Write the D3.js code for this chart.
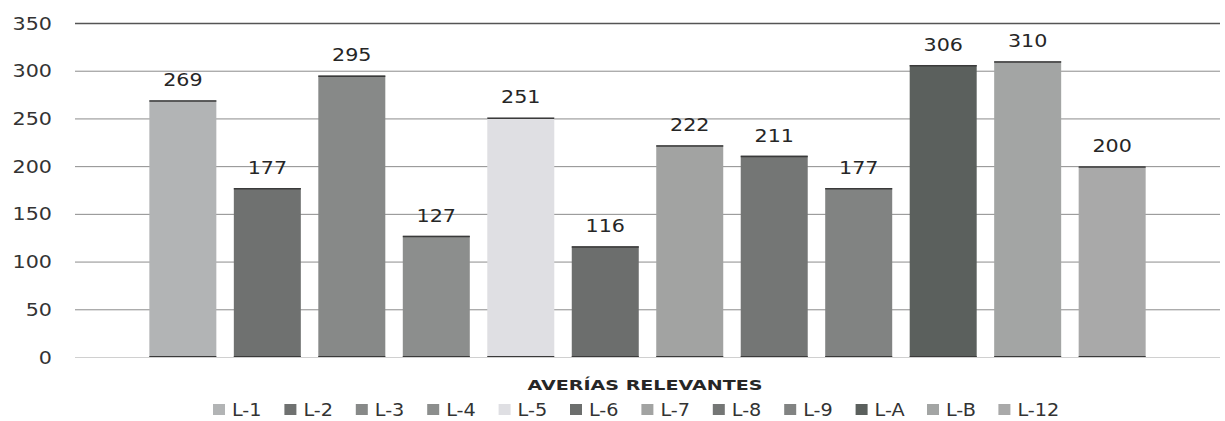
<!DOCTYPE html>
<html>
<head>
<meta charset="utf-8">
<script src="https://cdn.jsdelivr.net/npm/d3@7"></script>
<style>
  html, body { margin: 0; padding: 0; background: #ffffff; }
  svg { display: block; }
  text { font-family: "DejaVu Sans", Verdana, sans-serif; }
</style>
</head>
<body>
<svg id="chart" width="1225" height="421"></svg>
<script>
// Series (one bar each) and their values
const series = ["L-1", "L-2", "L-3", "L-4", "L-5", "L-6", "L-7", "L-8", "L-9", "L-A", "L-B", "L-12"];
const values = [269, 177, 295, 127, 251, 116, 222, 211, 177, 306, 310, 200];
const fills  = ["#b2b4b5", "#6f7170", "#878988", "#8c8e8d", "#dfdfe3", "#6c6e6d",
                "#a2a3a2", "#747675", "#818382", "#5b605d", "#a3a5a4", "#a9a9a9"];
const yTicks = [0, 50, 100, 150, 200, 250, 300, 350];
const categoryTitle = "AVERÍAS RELEVANTES";

const W = 1225, H = 421;
const plot = { left: 75, right: 1220, top: 23, bottom: 357 };
const svg = d3.select("#chart");

const x = d3.scaleBand()
  .domain(series)
  .range([plot.left, plot.right])
  .paddingInner(0.207)
  .paddingOuter(0.88);

const y = d3.scaleLinear()
  .domain([0, 350])
  .range([plot.bottom, plot.top]);

const color = d3.scaleOrdinal().domain(series).range(fills);
const data = series.map((s, i) => ({ name: s, value: values[i] }));

const SX = 1.18; // horizontal stretch of the label glyphs

// Horizontal gridlines with tick labels on the left
const yAxis = d3.axisLeft(y)
  .tickValues(yTicks)
  .tickSize(-(plot.right - plot.left))
  .tickPadding(0)
  .tickFormat(d3.format("d"));

const gAxis = svg.append("g")
  .attr("transform", `translate(${plot.left},0)`)
  .call(yAxis);
gAxis.select(".domain").remove();
gAxis.selectAll(".tick line")
  .attr("stroke", d => d === 0 ? "#d0d0d0" : (d === 350 ? "#555555" : "#8c8c8c"))
  .attr("stroke-width", d => d === 350 ? 1.3 : 1);
gAxis.selectAll(".tick text")
  .attr("x", null).attr("dy", null)
  .attr("fill", "#333333")
  .attr("font-size", 17.5)
  .attr("text-anchor", "end")
  .attr("transform", `translate(-23,6) scale(${SX},1)`);

// Bars
const gBars = svg.append("g");
gBars.selectAll("rect.bar")
  .data(data)
  .join("rect")
  .attr("class", "bar")
  .attr("x", d => x(d.name))
  .attr("y", d => y(d.value))
  .attr("width", x.bandwidth())
  .attr("height", d => y(0) - y(d.value))
  .attr("fill", d => color(d.name));

// Darker rim along the top and the base of each bar
gBars.selectAll("line.top")
  .data(data)
  .join("line")
  .attr("class", "top")
  .attr("x1", d => x(d.name)).attr("x2", d => x(d.name) + x.bandwidth())
  .attr("y1", d => y(d.value) + 0.75).attr("y2", d => y(d.value) + 0.75)
  .attr("stroke", "#3a3a3a").attr("stroke-width", 1.5);
gBars.selectAll("line.base")
  .data(data)
  .join("line")
  .attr("class", "base")
  .attr("x1", d => x(d.name)).attr("x2", d => x(d.name) + x.bandwidth())
  .attr("y1", y(0) - 0.5).attr("y2", y(0) - 0.5)
  .attr("stroke", "#3a3a3a").attr("stroke-width", 1);

// Value labels above the bars
svg.append("g").selectAll("text")
  .data(data)
  .join("text")
  .attr("transform", d => `translate(${x(d.name) + x.bandwidth() / 2},${y(d.value) - 14}) scale(${SX},1)`)
  .attr("text-anchor", "middle")
  .attr("font-size", 17.5)
  .attr("fill", "#262626")
  .text(d => d.value);

// Category title under the plot
const title = svg.append("text")
  .attr("text-anchor", "middle")
  .attr("font-size", 14.5)
  .attr("font-weight", "bold")
  .attr("fill", "#262626")
  .text(categoryTitle);
const tw = title.node().getComputedTextLength();
title.attr("transform", `translate(645,390) scale(${235 / tw},1)`);

// Legend
const legendStep = 71.4, legendX0 = 213, legendY = 404;
const gLeg = svg.append("g");
const items = gLeg.selectAll("g")
  .data(series)
  .join("g")
  .attr("transform", (d, i) => `translate(${legendX0 + i * legendStep},${legendY})`);
items.append("rect")
  .attr("width", 12).attr("height", 11)
  .attr("fill", d => color(d));
items.append("text")
  .attr("transform", "translate(19,11.5) scale(1.1,1)")
  .attr("font-size", 17.5)
  .attr("fill", "#333333")
  .text(d => d);
</script>
</body>
</html>
